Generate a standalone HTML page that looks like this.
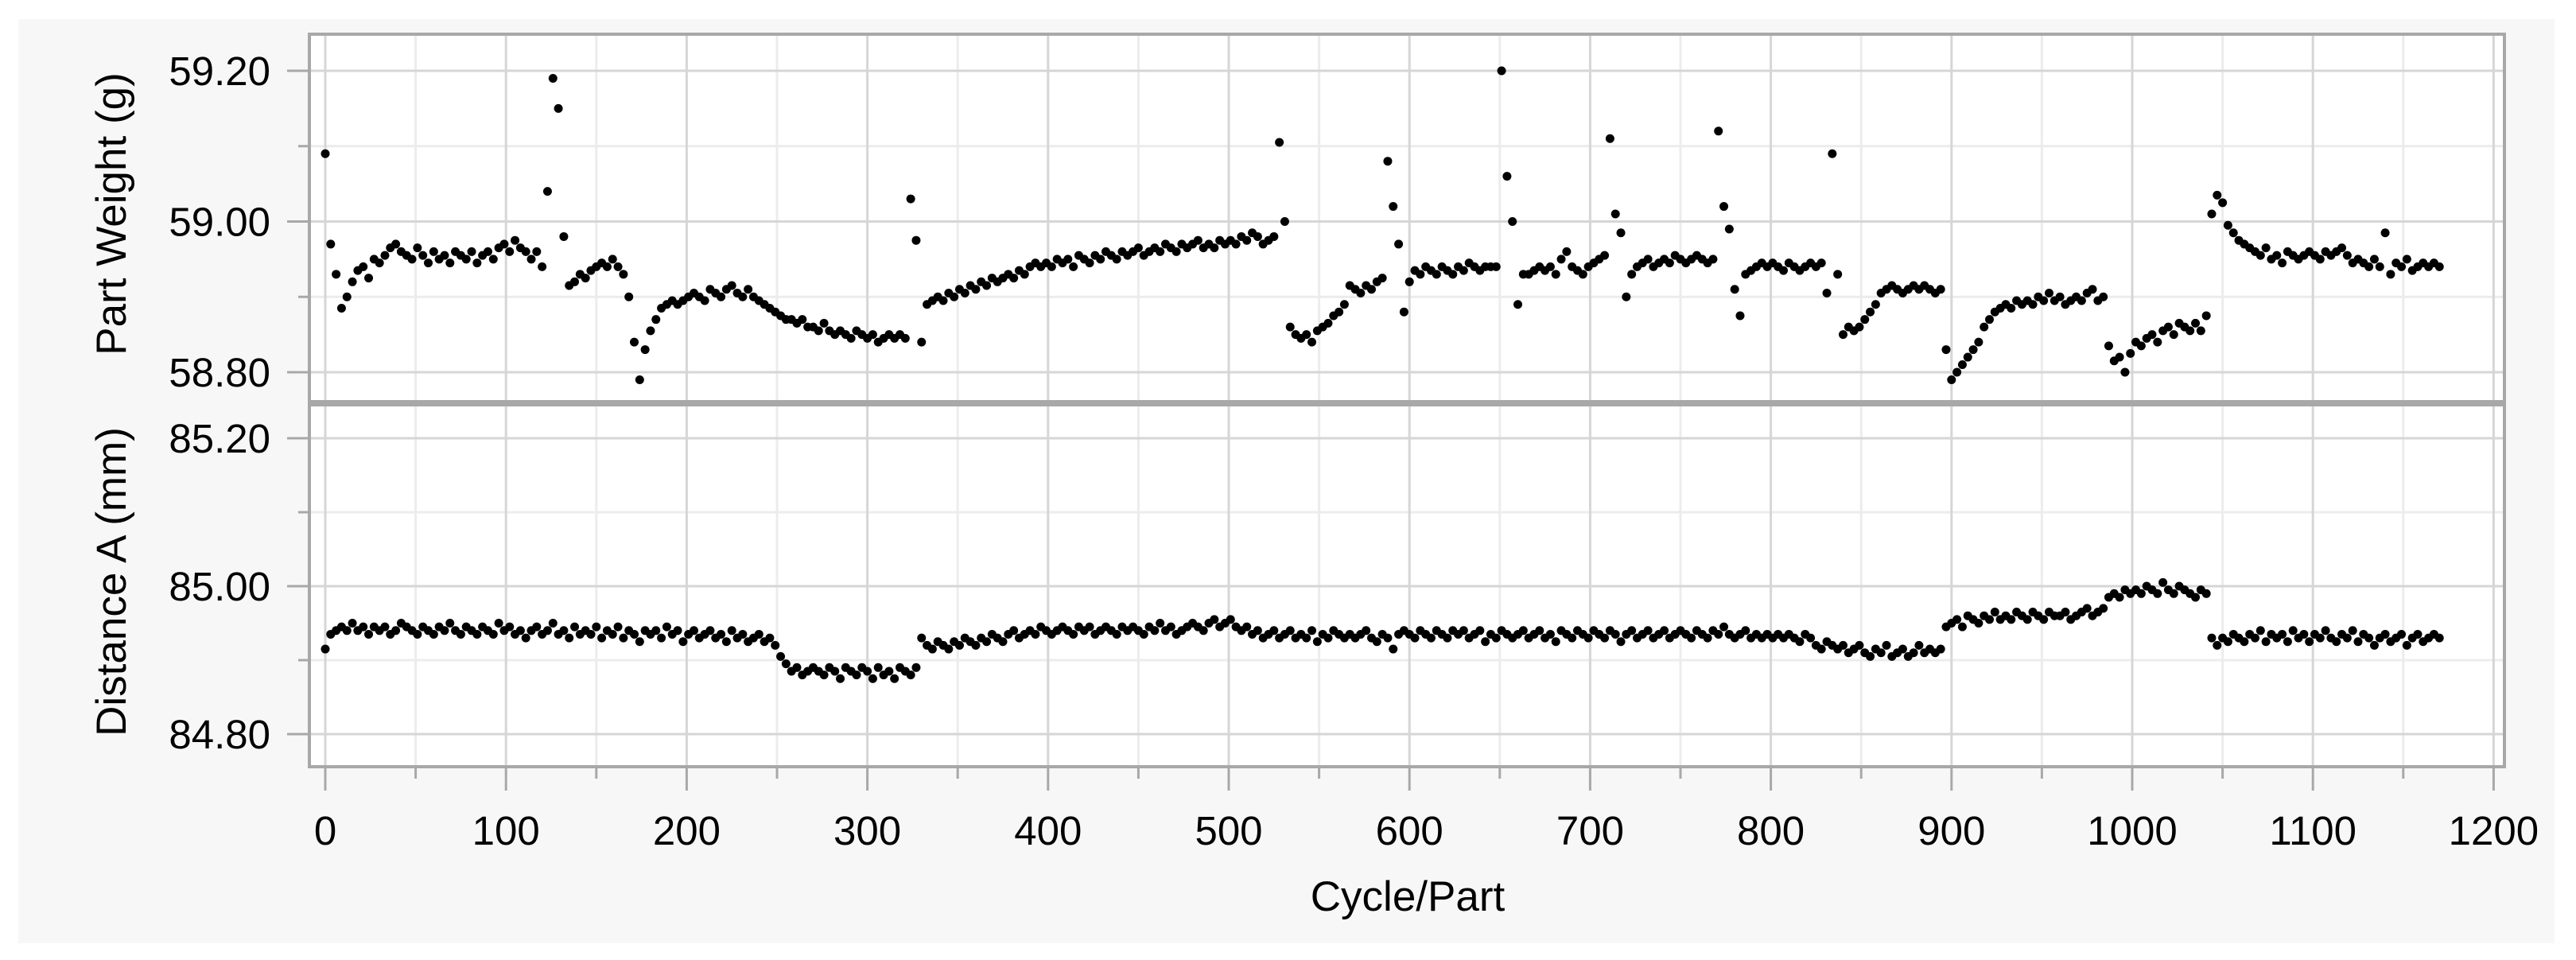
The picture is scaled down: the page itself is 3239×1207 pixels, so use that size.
<!DOCTYPE html>
<html><head><meta charset="utf-8">
<style>
html,body{margin:0;padding:0;background:#fff;}
svg{display:block;}
text{font-family:"Liberation Sans",sans-serif;fill:#000;}
</style></head>
<body>
<svg id="chart" width="3239" height="1207" viewBox="0 0 3239 1207" xmlns="http://www.w3.org/2000/svg">
<rect x="23" y="24" width="3189" height="1162" fill="#f7f7f7"/>
<g id="layer"></g>
</svg>
<script>
const xTicks = [0,100,200,300,400,500,600,700,800,900,1000,1100,1200];
const weightTicks = [59.20, 59.00, 58.80];
const distTicks = [85.20, 85.00, 84.80];
const weightValues = [
59.09,58.97,58.93,58.885,58.90,58.92,58.935,58.94,58.925,58.95,
58.945,58.955,58.965,58.97,58.96,58.955,58.95,58.965,58.955,58.945,
58.96,58.95,58.955,58.945,58.96,58.955,58.95,58.96,58.945,58.955,
58.96,58.95,58.965,58.97,58.96,58.975,58.965,58.96,58.95,58.96,
58.94,59.04,59.19,59.15,58.98,58.915,58.92,58.93,58.925,58.935,
58.94,58.945,58.94,58.95,58.94,58.93,58.90,58.84,58.79,58.83,
58.855,58.87,58.885,58.89,58.895,58.89,58.895,58.90,58.905,58.90,
58.895,58.91,58.905,58.90,58.91,58.915,58.905,58.90,58.91,58.90,
58.895,58.89,58.885,58.88,58.875,58.87,58.87,58.865,58.87,58.86,
58.86,58.855,58.865,58.855,58.85,58.855,58.85,58.845,58.855,58.85,
58.845,58.85,58.84,58.845,58.85,58.845,58.85,58.845,59.03,58.975,
58.84,58.89,58.895,58.90,58.895,58.905,58.90,58.91,58.905,58.915,
58.91,58.92,58.915,58.925,58.92,58.925,58.93,58.925,58.935,58.93,
58.94,58.945,58.94,58.945,58.94,58.95,58.945,58.95,58.94,58.955,
58.95,58.945,58.955,58.95,58.96,58.955,58.95,58.96,58.955,58.96,
58.965,58.955,58.96,58.965,58.96,58.97,58.965,58.96,58.97,58.965,
58.97,58.975,58.965,58.97,58.965,58.975,58.97,58.975,58.97,58.98,
58.975,58.985,58.98,58.97,58.975,58.98,59.105,59.00,58.86,58.85,
58.845,58.85,58.84,58.855,58.86,58.865,58.875,58.88,58.89,58.915,
58.91,58.905,58.915,58.91,58.92,58.925,59.08,59.02,58.97,58.88,
58.92,58.935,58.93,58.94,58.935,58.93,58.94,58.935,58.93,58.94,
58.935,58.945,58.94,58.935,58.94,58.94,58.94,59.20,59.06,59.00,
58.89,58.93,58.93,58.935,58.94,58.935,58.94,58.93,58.95,58.96,
58.94,58.935,58.93,58.94,58.945,58.95,58.955,59.11,59.01,58.985,
58.90,58.93,58.94,58.945,58.95,58.94,58.945,58.95,58.945,58.955,
58.95,58.945,58.95,58.955,58.95,58.945,58.95,59.12,59.02,58.99,
58.91,58.875,58.93,58.935,58.94,58.945,58.94,58.945,58.94,58.935,
58.945,58.94,58.935,58.94,58.945,58.94,58.945,58.905,59.09,58.93,
58.85,58.86,58.855,58.86,58.87,58.88,58.89,58.905,58.91,58.915,
58.91,58.905,58.91,58.915,58.91,58.915,58.91,58.905,58.91,58.83,
58.79,58.80,58.81,58.82,58.83,58.84,58.86,58.87,58.88,58.885,
58.89,58.885,58.895,58.89,58.895,58.89,58.90,58.895,58.905,58.895,
58.90,58.89,58.895,58.90,58.895,58.905,58.91,58.895,58.90,58.835,
58.815,58.82,58.80,58.825,58.84,58.835,58.845,58.85,58.84,58.855,
58.86,58.85,58.865,58.86,58.855,58.865,58.855,58.875,59.01,59.035,
59.025,58.995,58.985,58.975,58.97,58.965,58.96,58.955,58.965,58.95,
58.955,58.945,58.96,58.955,58.95,58.955,58.96,58.955,58.95,58.96,
58.955,58.96,58.965,58.955,58.945,58.95,58.945,58.94,58.95,58.94,
58.985,58.93,58.945,58.94,58.95,58.935,58.94,58.945,58.94,58.945,
58.94];
const distanceValues = [
84.915,84.935,84.94,84.945,84.94,84.95,84.94,84.945,84.935,84.945,
84.94,84.945,84.935,84.94,84.95,84.945,84.94,84.935,84.945,84.94,
84.935,84.945,84.94,84.95,84.94,84.935,84.945,84.94,84.935,84.945,
84.94,84.935,84.95,84.94,84.945,84.935,84.94,84.93,84.94,84.945,
84.935,84.94,84.95,84.935,84.94,84.93,84.945,84.935,84.94,84.935,
84.945,84.93,84.94,84.935,84.945,84.93,84.94,84.935,84.925,84.94,
84.935,84.94,84.93,84.945,84.935,84.94,84.925,84.935,84.94,84.93,
84.935,84.94,84.93,84.935,84.925,84.94,84.93,84.935,84.925,84.93,
84.935,84.925,84.93,84.92,84.905,84.895,84.885,84.89,84.88,84.885,
84.89,84.885,84.88,84.89,84.885,84.875,84.89,84.885,84.88,84.89,
84.885,84.875,84.89,84.88,84.885,84.875,84.89,84.885,84.88,84.89,
84.93,84.92,84.915,84.925,84.92,84.915,84.925,84.92,84.93,84.925,
84.92,84.93,84.925,84.935,84.93,84.925,84.935,84.94,84.93,84.935,
84.94,84.935,84.945,84.94,84.935,84.94,84.945,84.94,84.935,84.945,
84.94,84.945,84.935,84.94,84.945,84.94,84.935,84.945,84.94,84.945,
84.94,84.935,84.945,84.94,84.95,84.94,84.945,84.935,84.94,84.945,
84.95,84.945,84.94,84.95,84.955,84.945,84.95,84.955,84.945,84.94,
84.945,84.935,84.94,84.93,84.935,84.94,84.93,84.935,84.94,84.93,
84.935,84.93,84.94,84.925,84.935,84.93,84.94,84.935,84.93,84.935,
84.93,84.935,84.94,84.93,84.925,84.935,84.93,84.915,84.935,84.94,
84.935,84.93,84.94,84.935,84.93,84.94,84.935,84.93,84.94,84.935,
84.94,84.93,84.935,84.94,84.925,84.935,84.93,84.94,84.935,84.93,
84.935,84.94,84.93,84.935,84.94,84.93,84.935,84.925,84.94,84.935,
84.93,84.94,84.935,84.93,84.94,84.935,84.93,84.94,84.935,84.925,
84.935,84.94,84.93,84.935,84.94,84.93,84.935,84.94,84.93,84.935,
84.94,84.935,84.93,84.94,84.935,84.93,84.94,84.935,84.945,84.935,
84.93,84.935,84.94,84.93,84.935,84.93,84.935,84.93,84.935,84.93,
84.935,84.93,84.925,84.935,84.93,84.92,84.915,84.925,84.92,84.915,
84.92,84.91,84.915,84.92,84.91,84.905,84.915,84.91,84.92,84.905,
84.91,84.915,84.905,84.91,84.92,84.91,84.915,84.91,84.915,84.945,
84.95,84.955,84.945,84.96,84.955,84.95,84.96,84.955,84.965,84.955,
84.96,84.955,84.965,84.96,84.955,84.965,84.96,84.955,84.965,84.96,
84.96,84.965,84.955,84.96,84.965,84.97,84.96,84.965,84.97,84.985,
84.99,84.985,84.995,84.99,84.995,84.99,85.0,84.995,84.99,85.005,
84.995,84.99,85.0,84.995,84.99,84.985,84.995,84.99,84.93,84.92,
84.93,84.925,84.935,84.93,84.925,84.935,84.93,84.94,84.925,84.935,
84.93,84.935,84.925,84.94,84.93,84.935,84.925,84.935,84.93,84.94,
84.93,84.925,84.935,84.93,84.94,84.925,84.935,84.93,84.92,84.93,
84.935,84.925,84.93,84.935,84.92,84.93,84.935,84.925,84.93,84.935,
84.93];
const cycleStep = 3;

const NS = "http://www.w3.org/2000/svg";
const layer = document.getElementById('layer');
const X0 = 409, XPER = 2.272;
function xs(v){ return X0 + v*XPER; }
function yW(v){ return 89 + (59.2 - v)*947.5; }
function yD(v){ return 551 + (85.2 - v)*930; }
const L = 389, R = 3149;
const panels = [
  {top:43, bottom:505, ys:yW, ticks:weightTicks, minor:[59.10,58.90], title:"Part Weight (g)", name:"weight", vals:weightValues},
  {top:509, bottom:964, ys:yD, ticks:distTicks, minor:[85.10,84.90], title:"Distance A (mm)", name:"distance", vals:distanceValues}
];
function mk(tag, attrs){ const e=document.createElementNS(NS,tag); for(const k in attrs) e.setAttribute(k,attrs[k]); layer.appendChild(e); return e; }

panels.forEach(p=>{
  const bg = mk('rect',{x:L,y:p.top,width:R-L,height:p.bottom-p.top,fill:'#fff'});
  
  
  xTicks.slice(0,-1).forEach(t=>{
    const g = mk('line',{x1:xs(t+50),x2:xs(t+50),y1:p.top,y2:p.bottom,stroke:'#ececec','stroke-width':3});
    
    
  });
  p.minor.forEach(t=>{
    const g = mk('line',{x1:L,x2:R,y1:p.ys(t),y2:p.ys(t),stroke:'#ececec','stroke-width':3});
    
    
    const tk = mk('line',{x1:375,x2:L,y1:p.ys(t),y2:p.ys(t),stroke:'#a8a8a8','stroke-width':3});
    
    
  });
  xTicks.forEach(t=>{
    const g = mk('line',{x1:xs(t),x2:xs(t),y1:p.top,y2:p.bottom,stroke:'#d6d6d6','stroke-width':3});
    
    
  });
  p.ticks.forEach(t=>{
    const g = mk('line',{x1:L,x2:R,y1:p.ys(t),y2:p.ys(t),stroke:'#d6d6d6','stroke-width':3});
    
    
    const tk = mk('line',{x1:361,x2:L,y1:p.ys(t),y2:p.ys(t),stroke:'#a8a8a8','stroke-width':3});
    
    
    const lb = mk('text',{x:340,y:p.ys(t)+18,'text-anchor':'end','font-size':51});
    lb.textContent = t.toFixed(2);
    
    
  });
  p.vals.forEach((v,i)=>{
    const c = mk('circle',{cx:xs(i*cycleStep),cy:p.ys(v),r:5.5,fill:'#000'});
    
    
  });
  const fr = mk('rect',{x:L,y:p.top,width:R-L,height:p.bottom-p.top,fill:'none',stroke:'#a8a8a8','stroke-width':4});
  
  
  const cy = (p.top+p.bottom)/2 - 5;
  const tt = mk('text',{x:0,y:0,'text-anchor':'middle','font-size':53,transform:`translate(158,${cy}) rotate(-90)`});
  tt.textContent = p.title;
  
  
});
xTicks.forEach(t=>{
  const tk = mk('line',{x1:xs(t),x2:xs(t),y1:964,y2:994,stroke:'#a8a8a8','stroke-width':3});
  
  
  const lb = mk('text',{x:xs(t),y:1062,'text-anchor':'middle','font-size':51});
  lb.textContent = String(t);
  
  
  if(t<1200){
    const mt = mk('line',{x1:xs(t+50),x2:xs(t+50),y1:964,y2:979,stroke:'#a8a8a8','stroke-width':3});
    
    
  }
});
const xt = mk('text',{x:1770,y:1145,'text-anchor':'middle','font-size':53});
xt.textContent = 'Cycle/Part';


</script>
</body></html>
